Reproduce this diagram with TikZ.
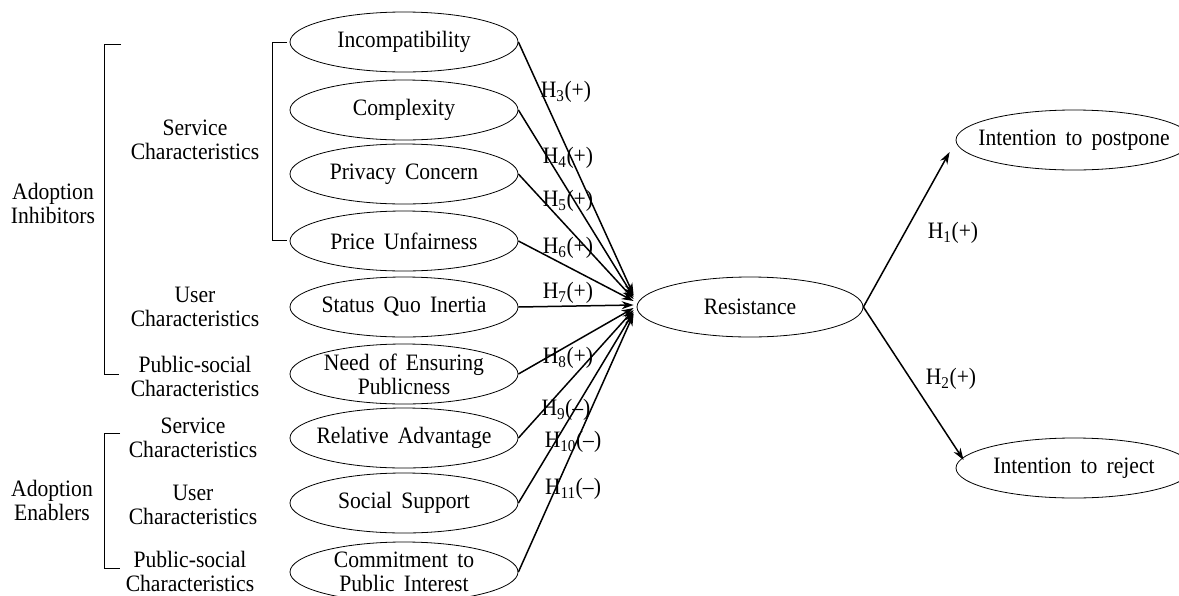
\documentclass[tikz,border=0pt]{standalone}
\usepackage{fontspec}
\setmainfont{Liberation Serif}[WordSpace=1.7, FakeStretch=0.92]
\usetikzlibrary{shapes.geometric,arrows.meta}
\begin{document}
\begin{tikzpicture}[x=1pt,y=-1pt,
  txt/.style={font={\fontsize{23.5}{24}\selectfont}, align=center, inner sep=0pt},
  ell/.style={txt, draw, ellipse, minimum width=228pt, minimum height=60pt,
              inner xsep=-25pt, inner ysep=-6pt, line width=0.8pt},
  hyp/.style={txt},
  arr/.style={-{Stealth[length=12pt,width=8pt]}, line width=1.5pt},
  brk/.style={line width=1pt}]
\clip (0,0) rectangle (1179,595);
% left category labels
\node[txt] (inh) at (53,203) {Adoption\\Inhibitors};
\node[txt] (enb) at (52,500) {Adoption\\Enablers};
\node[txt] (sc1) at (195,140) {Service\\Characteristics};
\node[txt] (uc1) at (195,307) {User\\Characteristics};
\node[txt] (pc1) at (195,376) {Public-social\\Characteristics};
\node[txt] (sc2) at (193,438) {Service\\Characteristics};
\node[txt] (uc2) at (193,505) {User\\Characteristics};
\node[txt] (pc2) at (190,571) {Public-social\\Characteristics};
% brackets
\draw[brk] (121,44) -- (104,44) -- (104,374) -- (119,374);
\draw[brk] (287,42) -- (272,42) -- (272,240) -- (287,240);
\draw[brk] (120,433) -- (104,433) -- (104,568) -- (120,568);
% construct ellipses
\node[ell] (inc) at (404,42) {Incompatibility};
\node[ell] (cpx) at (404,110) {Complexity};
\node[ell] (prv) at (404,174) {Privacy Concern};
\node[ell] (prc) at (404,241) {Price Unfairness};
\node[ell] (sqi) at (404,307) {Status Quo Inertia};
\node[ell] (nep) at (404,374) {Need of Ensuring\\Publicness};
\node[ell] (rad) at (404,438) {Relative Advantage};
\node[ell] (ssp) at (404,503) {Social Support};
\node[ell] (cpi) at (404,572) {Commitment to\\Public Interest};
\node[ell, minimum width=226pt] (res) at (750,307) {Resistance};
\node[ell, minimum width=236pt] (pst) at (1074,140) {Intention to postpone};
\node[ell, minimum width=236pt] (rej) at (1074,468) {Intention to reject};
% arrows to Resistance
\draw[arr] (inc.east) -- ([xshift=-3pt,yshift=12pt]res.west);
\draw[arr] (cpx.east) -- ([xshift=-3pt,yshift=10pt]res.west);
\draw[arr] (prv.east) -- ([xshift=-3pt,yshift=8pt]res.west);
\draw[arr] (prc.east) -- ([xshift=-3pt,yshift=6pt]res.west);
\draw[arr] (sqi.east) -- ([xshift=-3pt,yshift=2pt]res.west);
\draw[arr] (nep.east) -- ([xshift=-3pt,yshift=-1pt]res.west);
\draw[arr] (rad.east) -- ([xshift=-3pt,yshift=-3pt]res.west);
\draw[arr] (ssp.east) -- ([xshift=-3pt,yshift=-5pt]res.west);
\draw[arr] (cpi.east) -- ([xshift=-3pt,yshift=-7pt]res.west);
% arrows from Resistance
\draw[arr] (res.east) -- ([xshift=-6pt,yshift=-12pt]pst.west);
\draw[arr] (res.east) -- ([xshift=8pt,yshift=8pt]rej.west);
% hypothesis labels
\node[hyp] (h3) at (566,92) {H\textsubscript{3}(+)};
\node[hyp] (h4) at (568,158) {H\textsubscript{4}(+)};
\node[hyp] (h5) at (568,201) {H\textsubscript{5}(+)};
\node[hyp] (h6) at (568,248) {H\textsubscript{6}(+)};
\node[hyp] (h7) at (568,293) {H\textsubscript{7}(+)};
\node[hyp] (h8) at (568,358) {H\textsubscript{8}(+)};
\node[hyp] (h9) at (566,410) {H\textsubscript{9}(--)};
\node[hyp] (h10) at (573,442) {H\textsubscript{10}(--)};
\node[hyp] (h11) at (573,489) {H\textsubscript{11}(--)};
\node[hyp] (h1) at (953,233) {H\textsubscript{1}(+)};
\node[hyp] (h2) at (951,379) {H\textsubscript{2}(+)};
\end{tikzpicture}
\end{document}
